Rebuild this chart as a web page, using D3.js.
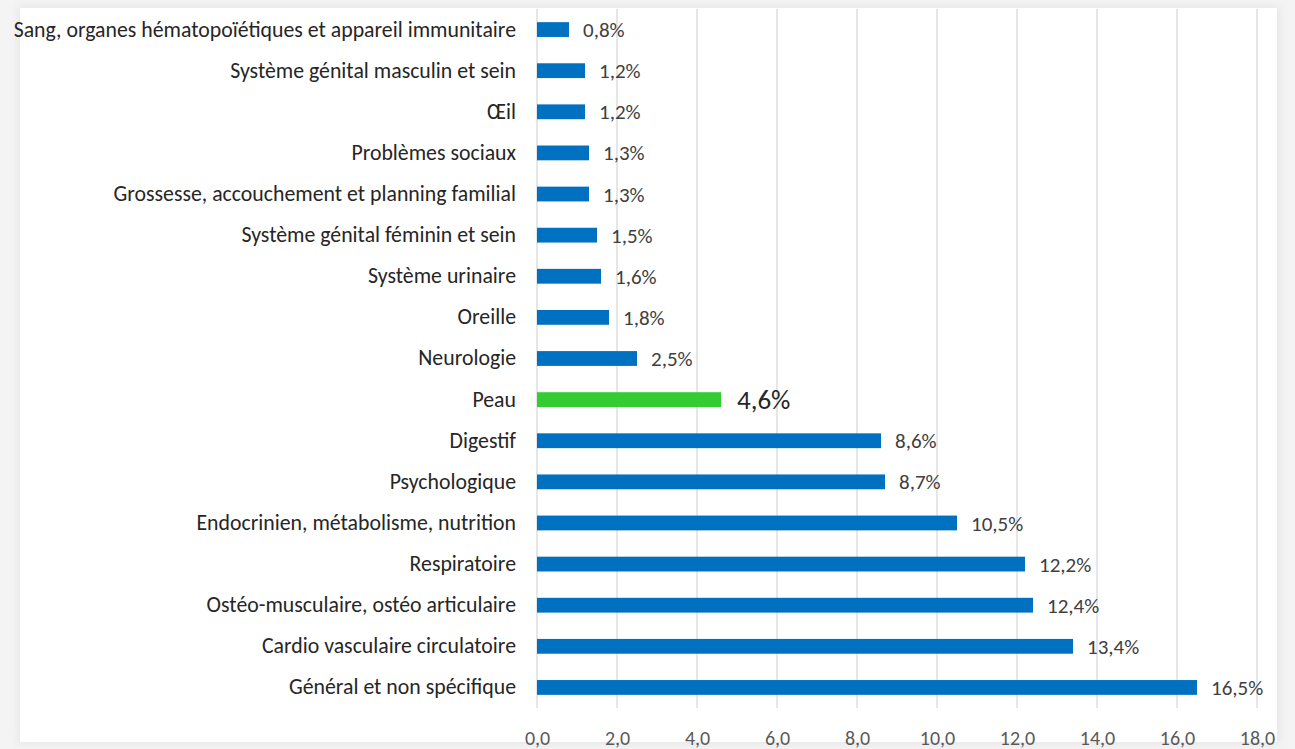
<!DOCTYPE html>
<html>
<head>
<meta charset="utf-8">
<script src="https://cdn.jsdelivr.net/npm/d3@7"></script>
<style>
  html, body { margin: 0; padding: 0; background: #f4f4f4; }
  svg { display: block; }
</style>
</head>
<body>
<div id="chart"></div>
<script>
// =============================================================
// DATA

let categories = [
    'Sang, organes hématopoïétiques et appareil immunitaire',
    'Système génital masculin et sein',
    'Œil',
    'Problèmes sociaux',
    'Grossesse, accouchement et planning familial',
    'Système génital féminin et sein',
    'Système urinaire',
    'Oreille',
    'Neurologie',
    'Peau',
    'Digestif',
    'Psychologique',
    'Endocrinien, métabolisme, nutrition',
    'Respiratoire',
    'Ostéo-musculaire, ostéo articulaire',
    'Cardio vasculaire circulatoire',
    'Général et non spécifique'
];
let values = [0.8, 1.2, 1.2, 1.3, 1.3, 1.5, 1.6, 1.8, 2.5, 4.6, 8.6, 8.7, 10.5, 12.2, 12.4, 13.4, 16.5];
let ticks = [0, 2, 4, 6, 8, 10, 12, 14, 16, 18];
let highlight = 'Peau';

// =============================================================
// LAYOUT

let width = 1295, height = 749;
let plot = { left: 537, right: 1257, top: 9, bottom: 708 };
let blue = '#0070c0', green = '#33cc33';
let font = 'Carlito, "Open Sans", "Noto Sans", sans-serif';

let fmt = function (v) { return v.toFixed(1).replace('.', ','); };

let svg = d3.select('#chart')
            .append('svg')
            .attr('width', width)
            .attr('height', height);

// card background with a soft edge
let defs = svg.append('defs');
let blur = defs.append('filter').attr('id', 'soft')
               .attr('x', '-5%').attr('y', '-5%').attr('width', '110%').attr('height', '110%');
blur.append('feGaussianBlur').attr('stdDeviation', 4);

svg.append('rect').attr('width', width).attr('height', height).attr('fill', '#f4f4f4');
svg.append('rect')
   .attr('x', 18).attr('y', 6).attr('width', 1262).attr('height', 738)
   .attr('fill', '#e6e6e6').attr('filter', 'url(#soft)');
svg.append('rect')
   .attr('x', 20).attr('y', 8).attr('width', 1257).attr('height', 734)
   .attr('fill', '#ffffff');

// scales
let x_scale = d3.scaleLinear()
                .domain([0, 18])
                .range([plot.left, plot.right]);

let y_scale = d3.scaleBand()
                .domain(categories)
                .range([plot.top, plot.bottom])
                .paddingInner(0.64)
                .paddingOuter(0.32);

// gridlines
svg.append('g')
   .selectAll('line')
   .data(ticks)
   .enter()
   .append('line')
   .attr('x1', function (d) { return x_scale(d); })
   .attr('x2', function (d) { return x_scale(d); })
   .attr('y1', plot.top)
   .attr('y2', plot.bottom)
   .attr('stroke', '#d9d9d9')
   .attr('stroke-width', 1.3);

// bars
svg.append('g')
   .selectAll('rect')
   .data(values)
   .enter()
   .append('rect')
   .attr('x', x_scale(0))
   .attr('y', function (d, i) { return y_scale(categories[i]); })
   .attr('width', function (d) { return x_scale(d) - x_scale(0); })
   .attr('height', y_scale.bandwidth())
   .attr('fill', function (d, i) { return categories[i] === highlight ? green : blue; });

// value labels
svg.append('g')
   .selectAll('text')
   .data(values)
   .enter()
   .append('text')
   .text(function (d) { return fmt(d) + '%'; })
   .attr('x', function (d, i) { return x_scale(d) + (categories[i] === highlight ? 16 : 14); })
   .attr('y', function (d, i) { return y_scale(categories[i]) + y_scale.bandwidth() / 2; })
   .attr('dy', '0.36em')
   .attr('font-family', font)
   .attr('font-size', function (d, i) { return categories[i] === highlight ? 27 : 21; })
   .attr('fill', function (d, i) { return categories[i] === highlight ? '#262626' : '#404040'; });

// category axis (no line, no ticks)
let y_axis = d3.axisLeft(y_scale).tickSize(0).tickPadding(21);
svg.append('g')
   .attr('class', 'y_axis')
   .attr('transform', 'translate(' + plot.left + ',0)')
   .call(y_axis)
   .call(function (g) { g.select('.domain').remove(); })
   .selectAll('text')
   .attr('font-family', font)
   .attr('font-size', 21.8)
   .attr('fill', '#262626');

// value axis at the bottom
let x_axis = d3.axisBottom(x_scale)
               .tickValues(ticks)
               .tickFormat(fmt)
               .tickSize(0)
               .tickPadding(23);
svg.append('g')
   .attr('class', 'x_axis')
   .attr('transform', 'translate(0,' + plot.bottom + ')')
   .call(x_axis)
   .call(function (g) { g.select('.domain').remove(); })
   .selectAll('text')
   .attr('font-family', font)
   .attr('font-size', 20)
   .attr('fill', '#595959');
</script>
</body>
</html>
